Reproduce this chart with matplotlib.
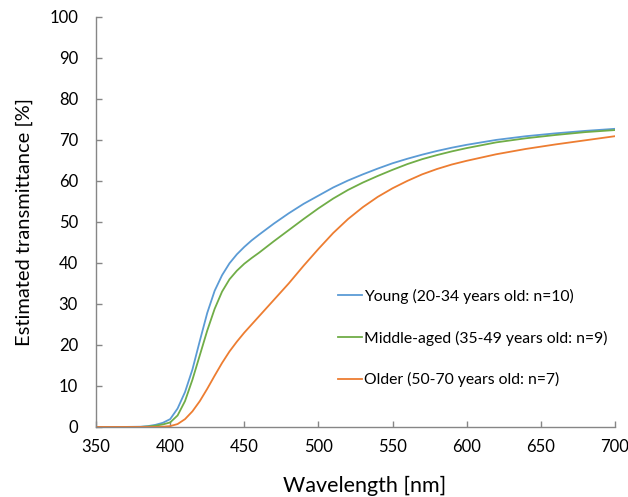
import matplotlib
matplotlib.use("Agg")
import matplotlib.pyplot as plt

plt.rcParams['font.family'] = ['Lato', 'DejaVu Sans']

wavelength = [350, 360, 370, 380, 385, 390, 395, 400, 405, 410, 415, 420, 425, 430,
              435, 440, 445, 450, 455, 460, 470, 480, 490, 500, 510, 520, 530, 540, 550,
              560, 570, 580, 590, 600, 620, 640, 660, 680, 700]
young = [0, 0, 0, 0.05, 0.2, 0.5, 1.0, 1.9, 4.5, 8.5, 14.0, 21.0, 27.8, 33.2,
         37.0, 39.9, 42.1, 43.9, 45.5, 46.9, 49.6, 52.1, 54.4, 56.4, 58.4, 60.1, 61.6, 63.0, 64.3,
         65.4, 66.4, 67.3, 68.1, 68.8, 70.0, 70.9, 71.6, 72.2, 72.7]
middle = [0, 0, 0, 0, 0.1, 0.3, 0.6, 1.1, 2.8, 6.3, 11.5, 17.5, 23.5, 28.8,
          33.0, 36.0, 38.1, 39.8, 41.2, 42.5, 45.3, 48.0, 50.7, 53.3, 55.7, 57.8, 59.6, 61.2, 62.7,
          64.1, 65.3, 66.3, 67.2, 68.0, 69.4, 70.4, 71.2, 71.9, 72.4]
older = [0, 0, 0, 0, 0, 0, 0.05, 0.2, 0.7, 1.9, 3.8, 6.3, 9.3, 12.5,
         15.6, 18.4, 20.8, 23.0, 25.0, 27.0, 31.0, 35.0, 39.3, 43.4, 47.3, 50.7, 53.6, 56.1, 58.2,
         60.0, 61.6, 62.9, 64.0, 64.9, 66.5, 67.8, 68.9, 69.9, 70.9]
labels = ["Young (20-34 years old: n=10)",
          "Middle-aged (35-49 years old: n=9)",
          "Older (50-70 years old: n=7)"]
colors = ["#5B9BD5", "#70AD47", "#ED7D31"]
xticks = [350, 400, 450, 500, 550, 600, 650, 700]
yticks = [0, 10, 20, 30, 40, 50, 60, 70, 80, 90, 100]

fig = plt.figure(figsize=(6.28, 4.97), dpi=100)
ax = fig.add_axes([0.153, 0.141, 0.826, 0.825])

for vals, lab, col in zip([young, middle, older], labels, colors):
    ax.plot(wavelength, vals, color=col, lw=1.3, label=lab)

ax.set_xlim(350, 700)
ax.set_ylim(0, 100)
ax.set_xticks(xticks)
ax.set_yticks(yticks)
for s in ['top', 'right']:
    ax.spines[s].set_visible(False)
for s in ['left', 'bottom']:
    ax.spines[s].set_color('#868686')
    ax.spines[s].set_linewidth(1.0)
ax.tick_params(axis='both', direction='in', length=4, width=1.0, color='#868686',
               labelsize=12, labelcolor='black')
ax.tick_params(axis='y', pad=13)
ax.tick_params(axis='x', pad=9)

ax.set_ylabel("Estimated transmittance [%]", fontsize=14.5)
ax.yaxis.set_label_coords(-0.122, 0.5)
fig.text(365 / 628, 1 - 486 / 497, "Wavelength [nm]", fontsize=15.5,
         ha='center', va='center')

leg = ax.legend(loc='upper left', bbox_to_anchor=(0.467, 0.337), frameon=False,
                fontsize=11.3, handlelength=1.5, handletextpad=0.15, labelspacing=1.7,
                borderaxespad=0, borderpad=0)

fig.savefig("out.png", dpi=100)
